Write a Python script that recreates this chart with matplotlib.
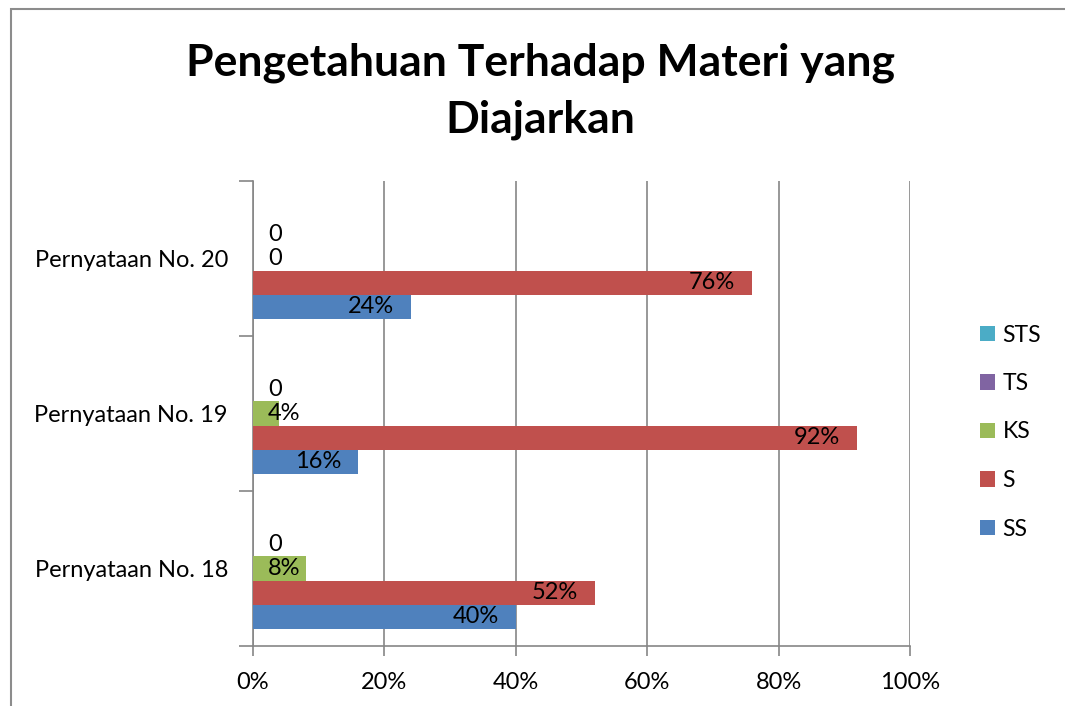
import matplotlib
matplotlib.use("Agg")
import matplotlib.pyplot as plt
from matplotlib.patches import Rectangle
from matplotlib.ticker import FixedLocator, PercentFormatter
import numpy as np

# data
kategori = ["Pernyataan No. 18", "Pernyataan No. 19", "Pernyataan No. 20"]
seri = ["SS", "S", "KS", "TS", "STS"]
ss = [40, 16, 24]
s = [52, 92, 76]
ks = [8, 4, 0]
ts = [0, 0, 0]
sts = [None, None, None]  # tidak ada label / batang
warna = ["#4F81BD", "#C0504D", "#9BBB59", "#8064A2", "#4BACC6"]

plt.rcParams['font.family'] = ['Lato', 'DejaVu Sans']
fs = 17

fig = plt.figure(figsize=(10.65, 7.06), dpi=100)
# bingkai chart
fig.patches.append(Rectangle((11 / 1065, -0.01), 1.0, 1 - 9 / 706 + 0.01,
                             transform=fig.transFigure, fill=False,
                             edgecolor="#8c8c8c", linewidth=1.5))

ax = fig.add_axes([253 / 1065, 1 - 646 / 706, (910 - 253) / 1065, (646 - 181) / 706])

y = np.arange(len(kategori))
h = 0.155
nilai = [ss, s, ks, ts, sts]
for i, (nama, vals, c) in enumerate(zip(seri, nilai, warna)):
    offs = (i - 2) * h
    v = [0 if x is None else x for x in vals]
    ax.barh(y + offs, v, height=h, color=c, label=nama, zorder=3)
    for k, x in enumerate(vals):
        if x is None:
            continue
        txt = f"{x}%" if x > 0 else "0"
        if x >= 12:
            ax.text(x - 2.6, y[k] + offs, txt, ha="right", va="center", fontsize=fs, zorder=4)
        else:
            ax.text(2.3, y[k] + offs, txt, ha="left", va="center", fontsize=fs, zorder=4)

ax.set_xlim(0, 100)
ax.set_ylim(-0.5, 2.5)
ax.xaxis.set_major_locator(FixedLocator([0, 20, 40, 60, 80, 100]))
ax.xaxis.set_major_formatter(PercentFormatter(decimals=0))
ax.set_yticks(y)
ax.set_yticklabels(kategori)
ax.yaxis.set_minor_locator(FixedLocator([-0.5, 0.5, 1.5, 2.5]))
ax.tick_params(axis="y", which="major", length=0, pad=18, labelsize=fs)
ax.tick_params(axis="y", which="minor", length=10, color="#868686", width=1.2)
ax.tick_params(axis="x", length=7, color="#868686", width=1.2, labelsize=fs, pad=12)
ax.grid(axis="x", color="#868686", linewidth=1.2, zorder=0)
for sp in ["top", "right"]:
    ax.spines[sp].set_visible(False)
for sp in ["left", "bottom"]:
    ax.spines[sp].set_color("#868686")
    ax.spines[sp].set_linewidth(1.2)

fig.text(540 / 1065, 1 - 91 / 706, "Pengetahuan Terhadap Materi yang\nDiajarkan",
         ha="center", va="center", fontsize=32, fontweight="bold", linespacing=1.5)

hnd, lab = ax.get_legend_handles_labels()
fig.legend(hnd[::-1], lab[::-1], loc="center left", bbox_to_anchor=(959 / 1065, 1 - 432 / 706),
           frameon=False, fontsize=16.5, handlelength=0.65, handleheight=0.65,
           handletextpad=0.35, labelspacing=1.2)

fig.savefig("out.png", dpi=100)
